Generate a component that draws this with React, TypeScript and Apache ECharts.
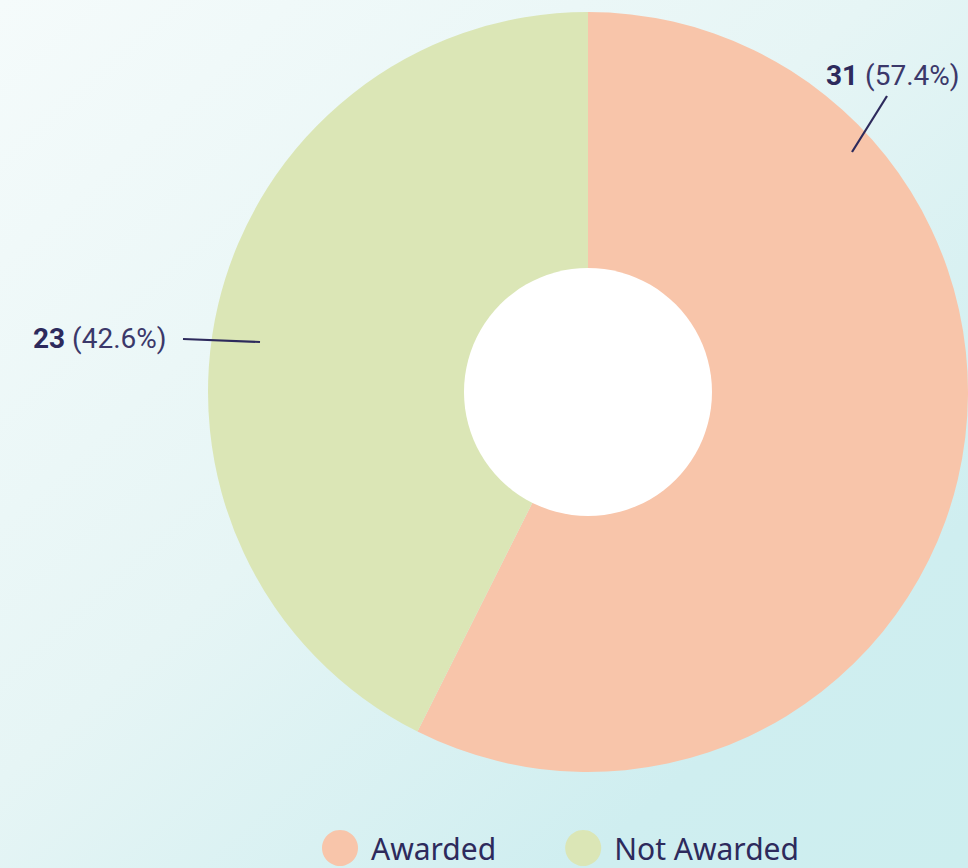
import React, { useEffect, useRef } from "react";
import * as echarts from "echarts";

const categories = ["Awarded", "Not Awarded"];
const values = [31, 23];
const percents = ["57.4%", "42.6%"];
const colors = ["#f8c5aa", "#dbe6b6"];

const TEXT = "#2d2a5c";

export default function App() {
  const ref = useRef<HTMLDivElement>(null);
  useEffect(() => {
    if (!ref.current) return;
    const chart = echarts.init(ref.current, undefined, { renderer: "svg" });
    const cx = 588;
    const cy = 392;
    const R = 380;
    const labelSpots = [
      { x: 826, y: 75, line: [[852, 152], [887, 96]] },
      { x: 33, y: 338, line: [[260, 342], [183, 339]] },
    ];
    chart.setOption({
      animation: false,
      backgroundColor: new echarts.graphic.LinearGradient(0, 0, 1, 1, [
        { offset: 0, color: "#f5fbfb" },
        { offset: 0.45, color: "#e6f5f5" },
        { offset: 0.8, color: "#cfeef0" },
        { offset: 1, color: "#cdeeef" },
      ]),
      legend: {
        data: categories,
        left: 322,
        top: 830,
        padding: 0,
        icon: "circle",
        itemWidth: 36,
        itemHeight: 36,
        itemGap: 69,
        textStyle: {
          color: TEXT,
          fontFamily: "Noto Sans",
          fontSize: 30,
          lineHeight: 30,
          padding: [0, 0, 0, 8],
        },
      },
      graphic: labelSpots.map((s) => ({
        type: "line",
        z: 100,
        silent: true,
        shape: { x1: s.line[0][0], y1: s.line[0][1], x2: s.line[1][0], y2: s.line[1][1] },
        style: { stroke: TEXT, lineWidth: 2.2 },
      })),
      series: [
        {
          type: "pie",
          center: [cx, cy],
          radius: [0, R],
          startAngle: 90,
          clockwise: true,
          silent: true,
          data: categories.map((name, i) => ({
            name,
            value: values[i],
            itemStyle: { color: colors[i] },
          })),
          label: {
            show: true,
            position: "outside",
            overflow: "none",
            formatter: (p: any) => `{b|${p.value}}{n| (${percents[p.dataIndex]})}`,
            rich: {
              b: {
                fontFamily: "Roboto",
                fontWeight: "bold",
                fontSize: 28,
                color: TEXT,
              },
              n: {
                fontFamily: "Roboto",
                fontWeight: 400,
                fontSize: 28,
                color: "#3b386a",
              },
            },
          },
          labelLine: { show: false },
          labelLayout: (p: any) => {
            const s = labelSpots[p.dataIndex];
            return {
              x: s.x,
              y: s.y,
              align: "left",
              verticalAlign: "middle",
            };
          },
        },
        {
          type: "pie",
          center: [cx, cy],
          radius: [0, 124],
          silent: true,
          label: { show: false },
          labelLine: { show: false },
          data: [{ name: "hole", value: 1, itemStyle: { color: "#ffffff" } }],
        },
      ],
    });
    return () => chart.dispose();
  }, []);
  return (
    <div
      ref={ref}
      style={{ position: "absolute", left: 0, top: 0, width: 968, height: 868 }}
    />
  );
}
